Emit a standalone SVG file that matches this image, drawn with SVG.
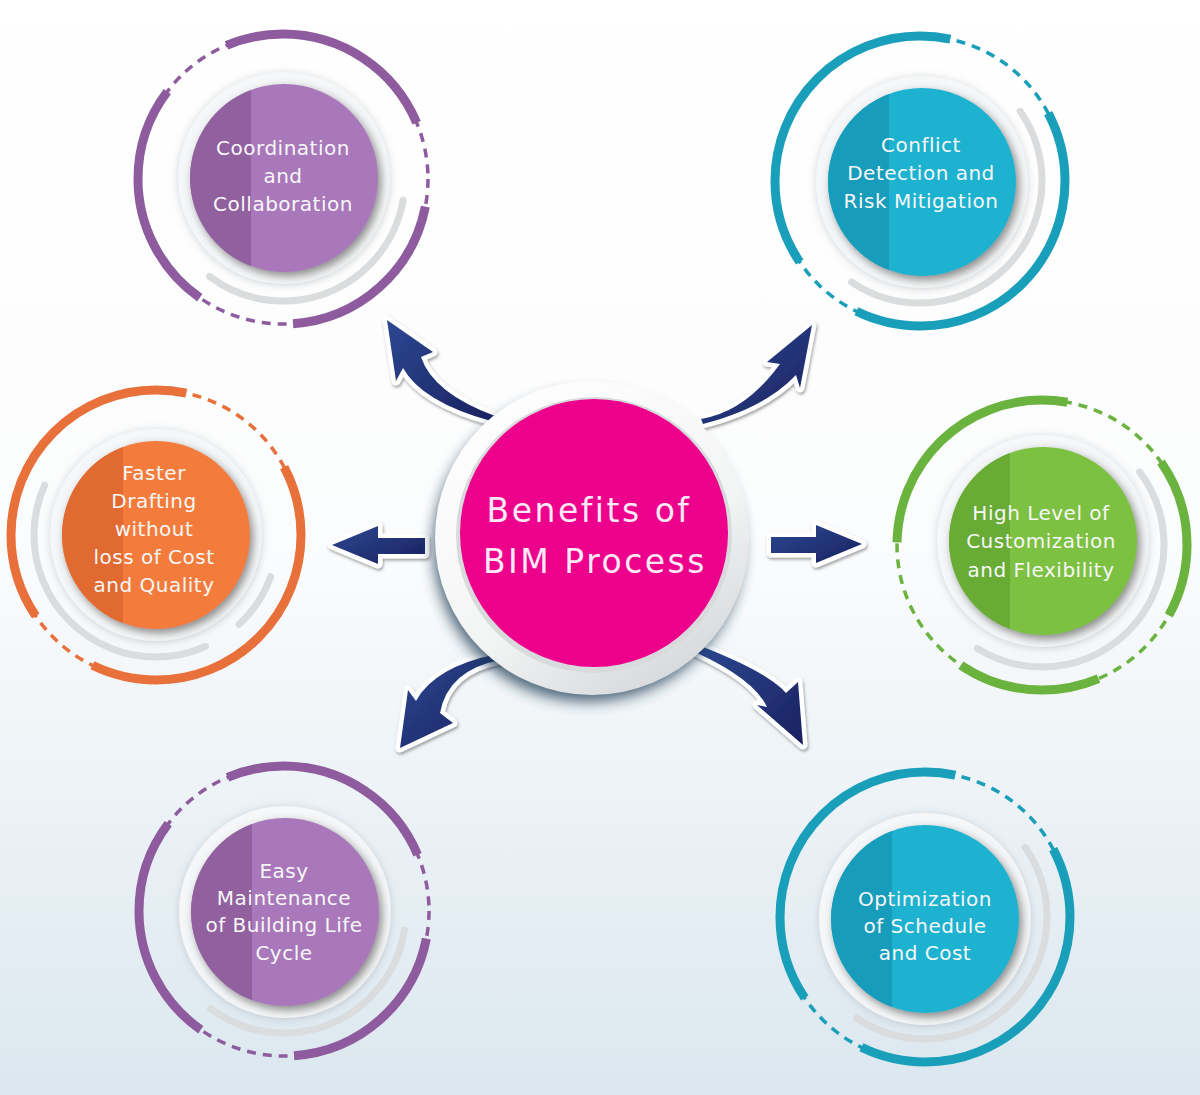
<svg xmlns="http://www.w3.org/2000/svg" width="1200" height="1095" viewBox="0 0 1200 1095">
<defs>
<linearGradient id="bg" x1="0" y1="0" x2="0" y2="1">
<stop offset="0" stop-color="#ffffff"/>
<stop offset="0.5" stop-color="#fbfcfd"/>
<stop offset="1" stop-color="#dbe7ef"/>
</linearGradient>
<linearGradient id="arrowGrad" x1="0" y1="0" x2="1" y2="1">
<stop offset="0" stop-color="#2c4891"/>
<stop offset="1" stop-color="#1a2160"/>
</linearGradient>
<linearGradient id="rimGrad" x1="0.2" y1="0" x2="0.8" y2="1">
<stop offset="0" stop-color="#ffffff"/>
<stop offset="0.6" stop-color="#f3f4f4"/>
<stop offset="1" stop-color="#d2d5d8"/>
</linearGradient>
<filter id="circShadow" x="-30%" y="-30%" width="160%" height="160%">
<feDropShadow dx="3" dy="4" stdDeviation="5" flood-color="#5a5a5a" flood-opacity="0.7"/>
</filter>
<filter id="haloShadow" x="-30%" y="-30%" width="160%" height="160%">
<feDropShadow dx="0" dy="1" stdDeviation="4" flood-color="#b4b9be" flood-opacity="0.6"/>
</filter>
<filter id="arrowShadow" x="-30%" y="-30%" width="160%" height="160%">
<feDropShadow dx="1" dy="2" stdDeviation="1.5" flood-color="#555" flood-opacity="0.55"/>
</filter>
<filter id="centerShadow" x="-30%" y="-30%" width="160%" height="160%">
<feGaussianBlur stdDeviation="7"/>
</filter>
</defs>
<style>
.rdash{fill:none;stroke-width:3.5;stroke-dasharray:9 7}
.rsolid{fill:none;stroke-width:9}
.garc{fill:none;stroke:#dadcde;stroke-width:7;stroke-linecap:round}
.halo{fill:#f6f7f8;filter:url(#haloShadow)}
.disc{filter:url(#circShadow)}
.label{font-family:"DejaVu Sans","Liberation Sans",sans-serif;font-size:20px;fill:#f7f7f7;text-anchor:middle;letter-spacing:0.5px}
.title{font-family:"DejaVu Sans","Liberation Sans",sans-serif;font-size:33px;fill:#fde9f5;text-anchor:middle;letter-spacing:2.5px}
.arrow{fill:url(#arrowGrad);stroke:#ffffff;stroke-width:9;stroke-linejoin:round;paint-order:stroke;filter:url(#arrowShadow)}
.purple{stroke:#8e5c9e}
.teal{stroke:#1a9fba}
.orange{stroke:#e8703a}
.green{stroke:#6bb33f}
</style>
<rect x="0" y="0" width="1200" height="1095" fill="url(#bg)"/>

<g id="node-coordination">
<circle cx="283" cy="179" r="145" class="rdash purple"/>
<circle cx="283" cy="179" r="145" class="rsolid purple" stroke-dasharray="189.8 98.7 232.8 75.9 227.8 86" stroke-dashoffset="-27.8"/>
<circle cx="283" cy="179" r="122" class="garc" stroke-dasharray="249.1 517.4" stroke-dashoffset="-21.3"/>
<circle cx="284" cy="178" r="106" class="halo"/>
<circle cx="284" cy="178" r="94" fill="#a878bb" class="disc"/>
<path d="M251,90 A94,94 0 0 0 251,266 Z" fill="#90609f"/>
<text class="label" x="283" y="155">Coordination</text>
<text class="label" x="283" y="183">and</text>
<text class="label" x="283" y="211">Collaboration</text>
</g>

<g id="node-conflict">
<circle cx="920" cy="181" r="145" class="rdash teal"/>
<circle cx="920" cy="181" r="145" class="rsolid teal" stroke-dasharray="364.4 75.9 344.2 126.5" stroke-dashoffset="70.9"/>
<circle cx="920" cy="181" r="122" class="garc" stroke-dasharray="338.6 428" stroke-dashoffset="74.5"/>
<circle cx="922" cy="182" r="106" class="halo"/>
<circle cx="922" cy="182" r="94" fill="#1fb2d0" class="disc"/>
<path d="M889,94 A94,94 0 0 0 889,270 Z" fill="#179dbb"/>
<text class="label" x="921" y="152">Conflict</text>
<text class="label" x="921" y="180">Detection and</text>
<text class="label" x="921" y="208">Risk Mitigation</text>
</g>

<g id="node-drafting">
<circle cx="156" cy="535" r="145" class="rdash orange"/>
<circle cx="156" cy="535" r="145" class="rsolid orange" stroke-dasharray="364.4 75.9 344.2 126.5" stroke-dashoffset="70.9"/>
<circle cx="156" cy="535" r="122" class="garc" stroke-dasharray="57.5 40.5 293.8 374.8" stroke-dashoffset="-42.6"/>
<circle cx="156" cy="535" r="106" class="halo"/>
<circle cx="156" cy="535" r="94" fill="#f37b3e" class="disc"/>
<path d="M123,447 A94,94 0 0 0 123,623 Z" fill="#e16a31"/>
<text class="label" x="154" y="480">Faster</text>
<text class="label" x="154" y="508">Drafting</text>
<text class="label" x="154" y="536">without</text>
<text class="label" x="154" y="564">loss of Cost</text>
<text class="label" x="154" y="592">and Quality</text>
</g>

<g id="node-customization">
<circle cx="1042" cy="545" r="145" class="rdash green"/>
<circle cx="1042" cy="545" r="145" class="rsolid green" stroke-dasharray="162 96.2 144.2 144.2 250.5 113.9" stroke-dashoffset="88.6"/>
<circle cx="1042" cy="545" r="122" class="garc" stroke-dasharray="338.6 428" stroke-dashoffset="78.8"/>
<circle cx="1043" cy="541" r="106" class="halo"/>
<circle cx="1043" cy="541" r="94" fill="#7bc142" class="disc"/>
<path d="M1010,453 A94,94 0 0 0 1010,629 Z" fill="#68ac36"/>
<text class="label" x="1041" y="520">High Level of</text>
<text class="label" x="1041" y="548">Customization</text>
<text class="label" x="1041" y="577">and Flexibility</text>
</g>

<g id="node-maintenance">
<circle cx="284" cy="911" r="145" class="rdash purple"/>
<circle cx="284" cy="911" r="145" class="rsolid purple" stroke-dasharray="189.8 98.7 232.8 75.9 227.8 86" stroke-dashoffset="-27.8"/>
<circle cx="284" cy="911" r="122" class="garc" stroke-dasharray="251.3 515.3" stroke-dashoffset="-19.2"/>
<circle cx="285" cy="912" r="106" class="halo"/>
<circle cx="285" cy="912" r="94" fill="#a878bb" class="disc"/>
<path d="M252,824 A94,94 0 0 0 252,1000 Z" fill="#90609f"/>
<text class="label" x="284" y="878">Easy</text>
<text class="label" x="284" y="905">Maintenance</text>
<text class="label" x="284" y="932">of Building Life</text>
<text class="label" x="284" y="960">Cycle</text>
</g>

<g id="node-optimization">
<circle cx="925" cy="917" r="145" class="rdash teal"/>
<circle cx="925" cy="917" r="145" class="rsolid teal" stroke-dasharray="364.4 75.9 344.2 126.5" stroke-dashoffset="70.9"/>
<circle cx="925" cy="917" r="122" class="garc" stroke-dasharray="338.6 428" stroke-dashoffset="74.5"/>
<circle cx="925" cy="919" r="106" class="halo"/>
<circle cx="925" cy="919" r="94" fill="#1fb2d0" class="disc"/>
<path d="M892,831 A94,94 0 0 0 892,1007 Z" fill="#179dbb"/>
<text class="label" x="925" y="906">Optimization</text>
<text class="label" x="925" y="933">of Schedule</text>
<text class="label" x="925" y="960">and Cost</text>
</g>

<g id="connectors">
<path class="arrow" d="M387,320 L433,352 L421,357 Q433,393 495,416 L491,421 Q422,402 403,368 L396,381 Z"/>
<path class="arrow" d="M812,325 L800,388 L796,375 Q765,408 703,424 L701,419 Q745,412 780,364 L767,362 Z"/>
<path class="arrow" d="M332,545 L378,526 L378,538 L425,538 L425,554 L378,554 L378,564 Z"/>
<path class="arrow" d="M862,544 L816,525 L816,537 L771,537 L771,553 L816,553 L816,563 Z"/>
<path class="arrow" d="M400,748 L408,690 L416,701 Q434,667 497,654 L500,660 Q448,670 440,713 L453,723 Z"/>
<path class="arrow" d="M803,745 L798,682 L786,693 Q768,672 698,645 L695,652 Q754,679 767,707 L757,705 Z"/>
</g>

<g id="node-center">
<circle cx="588" cy="547" r="155" fill="#1e3a52" opacity="0.75" filter="url(#centerShadow)"/>
<circle cx="592" cy="538" r="157" fill="url(#rimGrad)"/>
<circle cx="594" cy="535" r="138" fill="#d9dadc"/>
<circle cx="594" cy="533" r="134" fill="#ec008c"/>
<text class="title" x="589" y="522">Benefits of</text>
<text class="title" x="595" y="573">BIM Process</text>
</g>
</svg>
